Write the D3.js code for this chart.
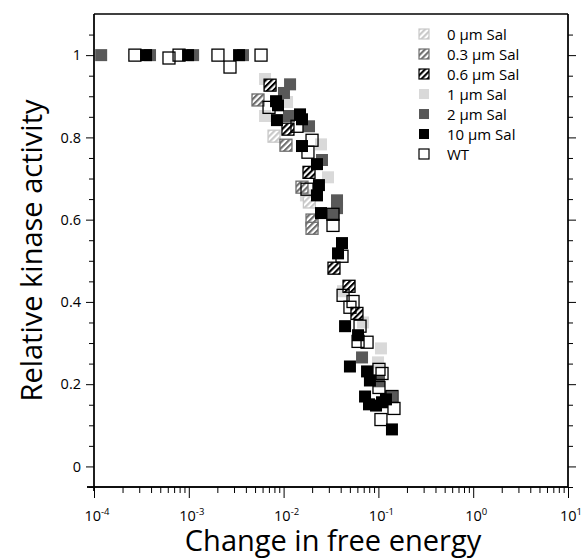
<!DOCTYPE html>
<html>
<head>
<meta charset="utf-8">
<script src="https://cdn.jsdelivr.net/npm/d3@7"></script>
<style>
body { margin: 0; background: #fff; }
text { font-family: "Open Sans", "Lato", sans-serif; fill: #000; }
</style>
</head>
<body>
<div id="chart"></div>
<script>
// values: [change in free energy, relative kinase activity]
var sal0 = [[0.00793, 0.803], [0.0187, 0.643]];
var sal03 = [[0.00537, 0.891], [0.01059, 0.781], [0.01563, 0.679], [0.01995, 0.599], [0.01995, 0.579]];
var sal06 = [[0.0072, 0.927], [0.01112, 0.82], [0.01854, 0.715], [0.034, 0.482], [0.049, 0.438], [0.0594, 0.372]];
var sal1 = [[0.00637, 0.942], [0.00637, 0.852], [0.01087, 0.886], [0.0248, 0.783], [0.0294, 0.703],
  [0.0172, 0.659], [0.0424, 0.426], [0.0689, 0.35], [0.1064, 0.287], [0.0991, 0.253]];
var sal2 = [[0.000119, 1], [0.00039, 1], [0.00111, 1], [0.00373, 1], [0.0117, 0.929], [0.01009, 0.908],
  [0.0114, 0.852], [0.01854, 0.827], [0.0254, 0.745], [0.0366, 0.647], [0.0366, 0.628], [0.0334, 0.613],
  [0.0672, 0.265], [0.1014, 0.207], [0.136, 0.17]];
var sal10 = [[0.000354, 1], [0.000982, 1], [0.00339, 1], [0.00832, 0.888], [0.00873, 0.878], [0.00851, 0.842],
  [0.0149, 0.856], [0.01563, 0.844], [0.01563, 0.779], [0.0225, 0.735], [0.0236, 0.684], [0.0225, 0.659],
  [0.0248, 0.616], [0.0413, 0.543], [0.0375, 0.518], [0.0445, 0.341], [0.061, 0.319], [0.0501, 0.243],
  [0.0759, 0.231], [0.0814, 0.209], [0.0723, 0.17], [0.0796, 0.151], [0.0944, 0.148], [0.1092, 0.156],
  [0.1202, 0.163], [0.139, 0.09]];
var wt = [[0.00027, 1], [0.000618, 0.993], [0.000789, 1], [0.00203, 1], [0.00272, 0.971], [0.00578, 1],
  [0.00702, 0.873], [0.01384, 0.827], [0.01995, 0.793], [0.01807, 0.764], [0.01766, 0.674], [0.0332, 0.613],
  [0.0332, 0.586], [0.0413, 0.511], [0.0424, 0.416], [0.054, 0.401], [0.0501, 0.387], [0.064, 0.341],
  [0.061, 0.304], [0.0759, 0.302], [0.1014, 0.236], [0.1092, 0.226], [0.1014, 0.192], [0.139, 0.17],
  [0.146, 0.141], [0.1064, 0.114]];

var legendLabels = ['0 \u00b5m Sal', '0.3 \u00b5m Sal', '0.6 \u00b5m Sal', '1 \u00b5m Sal', '2 \u00b5m Sal', '10 \u00b5m Sal', 'WT'];
var xTickExps = [-4, -3, -2, -1, 0, 1];
var yTickValues = [0, 0.2, 0.4, 0.6, 0.8, 1];
var yTickLabels = ['0', '0.2', '0.4', '0.6', '0.8', '1'];

// marker styles, same order as legendLabels
var styles = [
  { data: sal0, fill: 'url(#hatch0)', stroke: '#c8c8c8' },
  { data: sal03, fill: 'url(#hatch03)', stroke: '#6e6e6e' },
  { data: sal06, fill: 'url(#hatch06)', stroke: '#000' },
  { data: sal1, fill: '#d9d9d9', stroke: 'none' },
  { data: sal2, fill: '#595959', stroke: 'none' },
  { data: sal10, fill: '#000', stroke: 'none' },
  { data: wt, fill: 'none', stroke: '#000' }
];
var drawOrder = [3, 4, 0, 1, 2, 5, 6];

var width = 582, height = 559;
var plotLeft = 94, plotRight = 568, plotTop = 14, plotBottom = 487;

var svg = d3.select('#chart').append('svg')
  .attr('width', width)
  .attr('height', height);

// hatch patterns
var defs = svg.append('defs');
[['hatch0', '#c8c8c8'], ['hatch03', '#6e6e6e'], ['hatch06', '#000']].forEach(function(h) {
  var p = defs.append('pattern')
    .attr('id', h[0])
    .attr('patternUnits', 'userSpaceOnUse')
    .attr('width', 4.2).attr('height', 4.2)
    .attr('patternTransform', 'rotate(45)');
  p.append('rect').attr('width', 4.2).attr('height', 4.2).attr('fill', '#fff');
  p.append('rect').attr('width', 2.1).attr('height', 4.2).attr('fill', h[1]);
});

var x = d3.scaleLog().domain([1e-4, 10]).range([plotLeft, plotRight]);
var y = d3.scaleLinear().domain([-0.05, 1.1]).range([plotBottom, plotTop]);

// top frame line
svg.append('line').attr('x1', plotLeft).attr('x2', plotRight).attr('y1', plotTop).attr('y2', plotTop)
  .attr('stroke', '#000').attr('stroke-width', 1.3);

var yMinor = d3.range(-0.05, 1.1, 0.05).filter(function(v) {
  return Math.abs(Math.round(v * 5) - v * 5) > 0.01;
});

// left axis
var gl = svg.append('g').attr('transform', 'translate(' + plotLeft + ',0)');
gl.call(d3.axisLeft(y).tickValues(yTickValues).tickSize(8)
  .tickFormat(function(d, i) { return yTickLabels[i]; }));
gl.append('g').call(d3.axisLeft(y).tickValues(yMinor).tickSize(5).tickFormat(''));
gl.selectAll('.domain').attr('d', 'M0,' + plotTop + 'V' + (plotBottom + 4));
gl.selectAll('text').attr('font-size', 14.5).attr('x', -13);

// right axis
var gr = svg.append('g').attr('transform', 'translate(' + plotRight + ',0)');
gr.call(d3.axisRight(y).tickValues(yTickValues).tickSize(8).tickFormat(''));
gr.append('g').call(d3.axisRight(y).tickValues(yMinor).tickSize(5).tickFormat(''));
gr.selectAll('.domain').attr('d', 'M0,' + plotTop + 'V' + plotBottom);

// bottom axis
var xMinor = [];
xTickExps.slice(0, -1).forEach(function(e) {
  for (var k = 2; k <= 9; k++) xMinor.push(k * Math.pow(10, e));
});
var gb = svg.append('g').attr('transform', 'translate(0,' + plotBottom + ')');
gb.call(d3.axisBottom(x).tickValues(xTickExps.map(function(e) { return Math.pow(10, e); }))
  .tickSize(11).tickFormat(''));
gb.append('g').call(d3.axisBottom(x).tickValues(xMinor).tickSize(6).tickFormat(''));
gb.selectAll('.domain').attr('d', 'M' + (plotLeft - 7) + ',0H' + plotRight);
svg.selectAll('.domain').attr('stroke-width', 1.3);

xTickExps.forEach(function(e) {
  var t = svg.append('text')
    .attr('x', x(Math.pow(10, e)) + 3)
    .attr('y', 521)
    .attr('text-anchor', 'middle')
    .attr('font-size', 14.5);
  t.append('tspan').text('10');
  t.append('tspan').attr('dy', -6).attr('font-size', 9.5).text(String(e));
});

// axis titles
svg.append('text')
  .attr('x', (plotLeft + plotRight) / 2 + 2)
  .attr('y', 551)
  .attr('text-anchor', 'middle')
  .attr('font-size', 29)
  .text('Change in free energy');

svg.append('text')
  .attr('transform', 'translate(42,' + ((plotTop + plotBottom) / 2) + ') rotate(-90)')
  .attr('text-anchor', 'middle')
  .attr('font-size', 29)
  .text('Relative kinase activity');

// markers
var size = 12;
drawOrder.forEach(function(si) {
  var s = styles[si];
  svg.append('g').selectAll('rect').data(s.data).enter()
    .append('rect')
    .attr('x', function(d) { return x(d[0]) - size / 2; })
    .attr('y', function(d) { return y(d[1]) - size / 2; })
    .attr('width', size)
    .attr('height', size)
    .attr('fill', s.fill)
    .attr('stroke', s.stroke)
    .attr('stroke-width', s.stroke === 'none' ? 0 : 1.3);
});

// legend
var lg = svg.append('g').attr('transform', 'translate(419,34)');
var rows = lg.selectAll('g').data(legendLabels).enter()
  .append('g')
  .attr('transform', function(d, i) { return 'translate(0,' + (i * 20) + ')'; });
rows.append('rect')
  .attr('x', 0).attr('y', -5).attr('width', 10).attr('height', 10)
  .attr('fill', function(d, i) { return styles[i].fill === 'none' ? '#fff' : styles[i].fill; })
  .attr('stroke', function(d, i) { return styles[i].stroke; })
  .attr('stroke-width', 1.2);
rows.append('text')
  .attr('x', 28).attr('y', 5.5)
  .attr('font-size', 15)
  .text(function(d) { return d; });
</script>
</body>
</html>
